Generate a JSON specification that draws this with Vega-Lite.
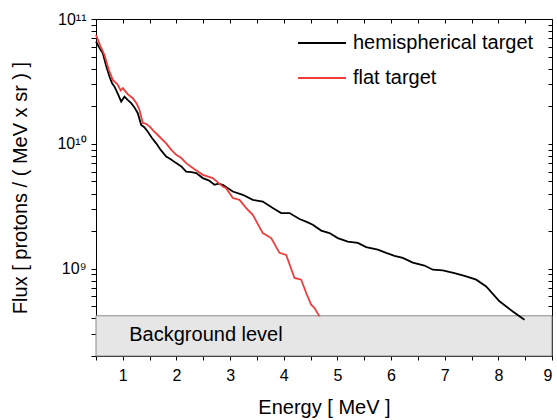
{
  "$schema": "https://vega.github.io/schema/vega-lite/v6.json",
  "width": 456,
  "height": 337,
  "autosize": {"type": "none"},
  "padding": {"left": 96, "top": 19, "right": 5, "bottom": 64},
  "config": {
    "view": {"stroke": null},
    "axis": {"grid": false, "domainColor": "black", "tickColor": "black", "labelColor": "black", "titleColor": "black"},
    "legend": {
      "orient": "none", "legendX": 201, "legendY": -1, "padding": 0,
      "symbolType": "stroke", "symbolSize": 2300, "symbolStrokeWidth": 1.8,
      "labelFont": "Liberation Sans", "labelFontSize": 20, "labelColor": "black", "labelLimit": 400,
      "labelOffset": 6, "rowPadding": -8
    }
  },
  "datasets": {
    "band": [{"e0": 0.5, "e1": 9, "lo": 200000000, "hi": 420000000, "label": "Background level", "elab": 1.12, "flab": 297000000}],
    "curves": [
      {"target": "hemispherical target", "energy": 0.5, "flux": 6.6e10},
      {"target": "hemispherical target", "energy": 0.56, "flux": 5.9e10},
      {"target": "hemispherical target", "energy": 0.627, "flux": 5.32e10},
      {"target": "hemispherical target", "energy": 0.69, "flux": 4.2e10},
      {"target": "hemispherical target", "energy": 0.752, "flux": 3.45e10},
      {"target": "hemispherical target", "energy": 0.8, "flux": 3.05e10},
      {"target": "hemispherical target", "energy": 0.845, "flux": 2.87e10},
      {"target": "hemispherical target", "energy": 0.91, "flux": 2.5e10},
      {"target": "hemispherical target", "energy": 0.97, "flux": 2.18e10},
      {"target": "hemispherical target", "energy": 1.031, "flux": 2.39e10},
      {"target": "hemispherical target", "energy": 1.09, "flux": 2.25e10},
      {"target": "hemispherical target", "energy": 1.156, "flux": 2.12e10},
      {"target": "hemispherical target", "energy": 1.22, "flux": 1.95e10},
      {"target": "hemispherical target", "energy": 1.279, "flux": 1.76e10},
      {"target": "hemispherical target", "energy": 1.342, "flux": 1.42e10},
      {"target": "hemispherical target", "energy": 1.4, "flux": 1.36e10},
      {"target": "hemispherical target", "energy": 1.466, "flux": 1.25e10},
      {"target": "hemispherical target", "energy": 1.54, "flux": 1.12e10},
      {"target": "hemispherical target", "energy": 1.622, "flux": 1.01e10},
      {"target": "hemispherical target", "energy": 1.71, "flux": 8.9e9},
      {"target": "hemispherical target", "energy": 1.808, "flux": 7.92e9},
      {"target": "hemispherical target", "energy": 1.9, "flux": 7.5e9},
      {"target": "hemispherical target", "energy": 1.995, "flux": 7.01e9},
      {"target": "hemispherical target", "energy": 2.09, "flux": 6.6e9},
      {"target": "hemispherical target", "energy": 2.181, "flux": 6.0e9},
      {"target": "hemispherical target", "energy": 2.28, "flux": 5.95e9},
      {"target": "hemispherical target", "energy": 2.368, "flux": 5.83e9},
      {"target": "hemispherical target", "energy": 2.491, "flux": 5.32e9},
      {"target": "hemispherical target", "energy": 2.6, "flux": 5.1e9},
      {"target": "hemispherical target", "energy": 2.709, "flux": 4.7e9},
      {"target": "hemispherical target", "energy": 2.78, "flux": 4.8e9},
      {"target": "hemispherical target", "energy": 2.863, "flux": 4.7e9},
      {"target": "hemispherical target", "energy": 3.05, "flux": 4.15e9},
      {"target": "hemispherical target", "energy": 3.236, "flux": 3.91e9},
      {"target": "hemispherical target", "energy": 3.423, "flux": 3.56e9},
      {"target": "hemispherical target", "energy": 3.609, "flux": 3.45e9},
      {"target": "hemispherical target", "energy": 3.795, "flux": 3.06e9},
      {"target": "hemispherical target", "energy": 3.952, "flux": 2.79e9},
      {"target": "hemispherical target", "energy": 4.107, "flux": 2.79e9},
      {"target": "hemispherical target", "energy": 4.293, "flux": 2.5e9},
      {"target": "hemispherical target", "energy": 4.448, "flux": 2.35e9},
      {"target": "hemispherical target", "energy": 4.541, "flux": 2.25e9},
      {"target": "hemispherical target", "energy": 4.698, "flux": 2.02e9},
      {"target": "hemispherical target", "energy": 4.852, "flux": 1.93e9},
      {"target": "hemispherical target", "energy": 5.007, "flux": 1.76e9},
      {"target": "hemispherical target", "energy": 5.193, "flux": 1.65e9},
      {"target": "hemispherical target", "energy": 5.38, "flux": 1.61e9},
      {"target": "hemispherical target", "energy": 5.536, "flux": 1.49e9},
      {"target": "hemispherical target", "energy": 5.753, "flux": 1.42e9},
      {"target": "hemispherical target", "energy": 5.909, "flux": 1.34e9},
      {"target": "hemispherical target", "energy": 6.064, "flux": 1.27e9},
      {"target": "hemispherical target", "energy": 6.219, "flux": 1.22e9},
      {"target": "hemispherical target", "energy": 6.405, "flux": 1.12e9},
      {"target": "hemispherical target", "energy": 6.623, "flux": 1.06e9},
      {"target": "hemispherical target", "energy": 6.778, "flux": 9.82e8},
      {"target": "hemispherical target", "energy": 6.964, "flux": 9.69e8},
      {"target": "hemispherical target", "energy": 7.182, "flux": 9.24e8},
      {"target": "hemispherical target", "energy": 7.4, "flux": 8.68e8},
      {"target": "hemispherical target", "energy": 7.587, "flux": 8.17e8},
      {"target": "hemispherical target", "energy": 7.773, "flux": 7.22e8},
      {"target": "hemispherical target", "energy": 8.021, "flux": 5.48e8},
      {"target": "hemispherical target", "energy": 8.269, "flux": 4.55e8},
      {"target": "hemispherical target", "energy": 8.487, "flux": 3.91e8},
      {"target": "flat target", "energy": 0.5, "flux": 7.45e10},
      {"target": "flat target", "energy": 0.58, "flux": 6.1e10},
      {"target": "flat target", "energy": 0.658, "flux": 5.15e10},
      {"target": "flat target", "energy": 0.74, "flux": 3.9e10},
      {"target": "flat target", "energy": 0.813, "flux": 3.25e10},
      {"target": "flat target", "energy": 0.9, "flux": 3.0e10},
      {"target": "flat target", "energy": 0.96, "flux": 2.68e10},
      {"target": "flat target", "energy": 1.0, "flux": 2.79e10},
      {"target": "flat target", "energy": 1.09, "flux": 2.5e10},
      {"target": "flat target", "energy": 1.186, "flux": 2.32e10},
      {"target": "flat target", "energy": 1.26, "flux": 2.1e10},
      {"target": "flat target", "energy": 1.311, "flux": 1.87e10},
      {"target": "flat target", "energy": 1.372, "flux": 1.47e10},
      {"target": "flat target", "energy": 1.43, "flux": 1.45e10},
      {"target": "flat target", "energy": 1.497, "flux": 1.38e10},
      {"target": "flat target", "energy": 1.59, "flux": 1.25e10},
      {"target": "flat target", "energy": 1.684, "flux": 1.14e10},
      {"target": "flat target", "energy": 1.808, "flux": 1.01e10},
      {"target": "flat target", "energy": 1.9, "flux": 9.0e9},
      {"target": "flat target", "energy": 1.995, "flux": 8.17e9},
      {"target": "flat target", "energy": 2.09, "flux": 7.7e9},
      {"target": "flat target", "energy": 2.181, "flux": 7.01e9},
      {"target": "flat target", "energy": 2.33, "flux": 6.3e9},
      {"target": "flat target", "energy": 2.491, "flux": 5.65e9},
      {"target": "flat target", "energy": 2.677, "flux": 5.32e9},
      {"target": "flat target", "energy": 2.863, "flux": 4.55e9},
      {"target": "flat target", "energy": 2.927, "flux": 4.42e9},
      {"target": "flat target", "energy": 3.05, "flux": 3.68e9},
      {"target": "flat target", "energy": 3.175, "flux": 3.56e9},
      {"target": "flat target", "energy": 3.3, "flux": 3.06e9},
      {"target": "flat target", "energy": 3.423, "flux": 2.7e9},
      {"target": "flat target", "energy": 3.609, "flux": 1.93e9},
      {"target": "flat target", "energy": 3.766, "flux": 1.76e9},
      {"target": "flat target", "energy": 3.92, "flux": 1.34e9},
      {"target": "flat target", "energy": 4.045, "flux": 1.29e9},
      {"target": "flat target", "energy": 4.2, "flux": 8.43e8},
      {"target": "flat target", "energy": 4.325, "flux": 8.17e8},
      {"target": "flat target", "energy": 4.418, "flux": 6.39e8},
      {"target": "flat target", "energy": 4.511, "flux": 5.15e8},
      {"target": "flat target", "energy": 4.573, "flux": 4.85e8},
      {"target": "flat target", "energy": 4.666, "flux": 4.15e8}
    ]
  },
  "resolve": {"axis": {"x": "independent", "y": "independent"}},
  "layer": [
    {
      "data": {"name": "band"},
      "mark": {"type": "rect", "stroke": "#8a8a8a", "strokeWidth": 1, "fill": "#e6e6e6"},
      "encoding": {
        "x": {"field": "e0", "type": "quantitative", "scale": {"domain": [0.5, 9], "nice": false, "zero": false},
          "axis": {"orient": "bottom", "title": "Energy [ MeV ]", "values": [0.5, 1, 1.5, 2, 2.5, 3, 3.5, 4, 4.5, 5, 5.5, 6, 6.5, 7, 7.5, 8, 8.5, 9],
            "labelExpr": "datum.value % 1 == 0 ? format(datum.value, 'd') : ''", "tickSize": 4, "tickColor": "black",
            "labelPadding": 7, "labelOverlap": false, "titlePadding": 14,
            "labelFont": "Liberation Sans", "labelFontSize": 16, "titleFont": "Liberation Sans", "titleFontSize": 20, "titleFontWeight": "normal"}},
        "x2": {"field": "e1"},
        "y": {"field": "lo", "type": "quantitative", "scale": {"type": "log", "domain": [200000000, 100000000000], "nice": false},
          "axis": {"orient": "left", "title": "Flux [ protons / ( MeV x sr ) ]",
            "values": [200000000, 300000000, 400000000, 500000000, 600000000, 700000000, 800000000, 900000000, 1000000000, 2000000000, 3000000000, 4000000000, 5000000000, 6000000000, 7000000000, 8000000000, 9000000000, 10000000000, 20000000000, 30000000000, 40000000000, 50000000000, 60000000000, 70000000000, 80000000000, 90000000000, 100000000000],
            "labelExpr": "datum.value == 1e9 ? '10⁹' : datum.value == 1e10 ? '10¹⁰' : datum.value == 1e11 ? '10¹¹' : ''",
            "tickSize": 5, "tickColor": "black",
            "labelPadding": 5, "labelOverlap": false, "titlePadding": 26,
            "labelFont": "Liberation Sans", "labelFontSize": 16, "titleFont": "Liberation Sans", "titleFontSize": 20, "titleFontWeight": "normal"}},
        "y2": {"field": "hi"}
      }
    },
    {
      "data": {"name": "band"},
      "mark": {"type": "text", "align": "left", "baseline": "middle", "fontSize": 20, "font": "Liberation Sans", "color": "black"},
      "encoding": {
        "x": {"field": "elab", "type": "quantitative", "axis": null},
        "y": {"field": "flab", "type": "quantitative", "axis": null},
        "text": {"field": "label"}
      }
    },
    {
      "data": {"name": "curves"},
      "mark": {"type": "line", "strokeWidth": 1.8, "interpolate": "linear"},
      "encoding": {
        "x": {"field": "energy", "type": "quantitative",
          "axis": {"orient": "top", "title": null, "labels": false, "values": [0.5, 1, 1.5, 2, 2.5, 3, 3.5, 4, 4.5, 5, 5.5, 6, 6.5, 7, 7.5, 8, 8.5, 9], "tickSize": -4, "tickColor": "black"}},
        "y": {"field": "flux", "type": "quantitative",
          "axis": {"orient": "right", "title": null, "labels": false,
            "values": [200000000, 300000000, 400000000, 500000000, 600000000, 700000000, 800000000, 900000000, 1000000000, 2000000000, 3000000000, 4000000000, 5000000000, 6000000000, 7000000000, 8000000000, 9000000000, 10000000000, 20000000000, 30000000000, 40000000000, 50000000000, 60000000000, 70000000000, 80000000000, 90000000000, 100000000000],
            "tickSize": -4, "tickColor": "black"}},
        "color": {"field": "target", "type": "nominal",
          "scale": {"domain": ["hemispherical target", "flat target"], "range": ["#000000", "#f03c3c"]},
          "legend": {"title": null}}
      }
    }
  ]
}
